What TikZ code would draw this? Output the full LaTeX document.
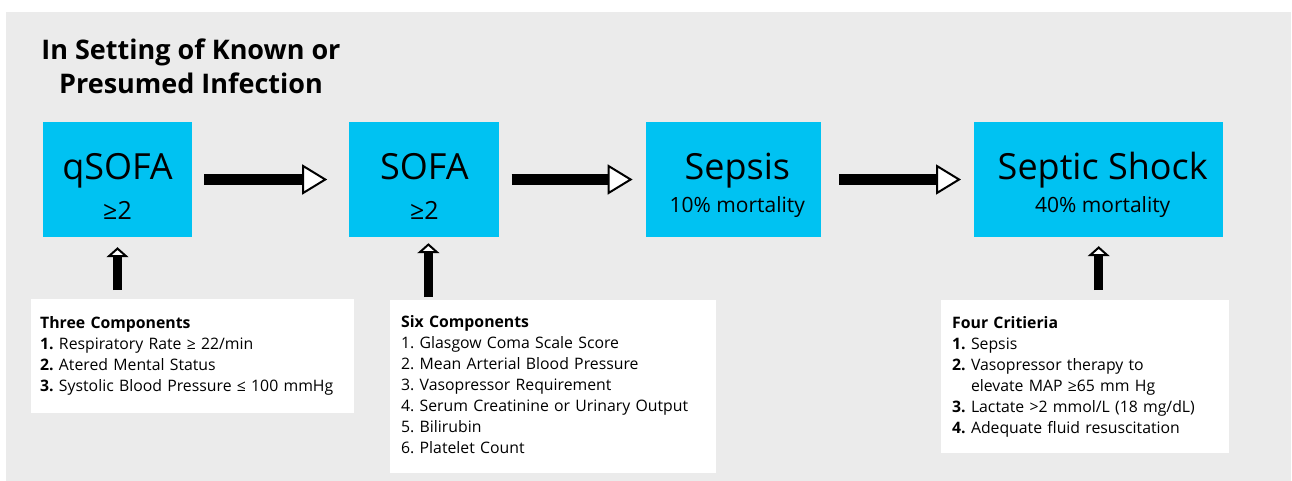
\documentclass[tikz,border=0pt]{standalone}
\usepackage{fontspec}
\setmainfont{Open Sans}
\usepackage{tikz}
\usetikzlibrary{arrows.meta, positioning, calc}
\usepackage{xcolor}
\definecolor{boxcyan}{HTML}{00C2F2}
\definecolor{bggray}{HTML}{EBEBEB}
\tikzstyle{sbox} = [%
  rectangle,
  fill=boxcyan,
  draw=none,
  minimum height=115pt,
  inner sep=0pt
]
\tikzstyle{ibox} = [%
  rectangle,
  fill=white,
  anchor=north west,
  align=left,
  inner xsep=11pt,
  inner ysep=0pt,
  font=\fontsize{15.8}{21}\selectfont\frenchspacing
]

\begin{document}
\begin{tikzpicture}[%
  x=1pt, y=-1pt,
  every node/.style={text=black},
  bigtxt/.style={anchor=base, font=\fontsize{36}{40}\selectfont},
  subtxt/.style={anchor=base, font=\fontsize{21}{24}\selectfont},
  flow/.style={line width=11pt, -{Triangle[length=25pt, width=30pt, line width=2pt, fill=white]}},
  feed/.style={line width=8.5pt, -{Triangle[length=10pt, width=22pt, line width=2pt, fill=white]}}
]

  % Frame
  \useasboundingbox (0,0) rectangle (1292,481);
  \fill[bggray] (6,12) rectangle (1291,481);

  % Title
  \node[font=\bfseries\fontsize{27}{34}\selectfont, align=center] (title) at (191,66) {In Setting of Known or\\Presumed Infection};

  % Stages
  \node[sbox, minimum width=149pt] (qsofa) at (117.5,179.5) {};
  \node[sbox, minimum width=150pt, right=157pt of qsofa] (sofa) {};
  \node[sbox, minimum width=175pt, right=146pt of sofa] (sepsis) {};
  \node[sbox, minimum width=249pt, right=153pt of sepsis] (shock) {};

  \node[bigtxt] (qsofa-t) at (qsofa.center) {qSOFA};
  \node[subtxt, font=\fontsize{25}{28}\selectfont] (qsofa-s) at ([yshift=-39.5pt]qsofa.center) {≥2};
  \node[bigtxt] (sofa-t) at (sofa.center) {SOFA};
  \node[subtxt, font=\fontsize{25}{28}\selectfont] (sofa-s) at ([yshift=-39.5pt]sofa.center) {≥2};
  \node[bigtxt] (sepsis-t) at ([xshift=4pt]sepsis.center) {Sepsis};
  \node[subtxt] (sepsis-s) at ([xshift=4pt,yshift=-33pt]sepsis.center) {10\% mortality};
  \node[bigtxt] (shock-t) at ([xshift=4pt]shock.center) {Septic Shock};
  \node[subtxt] (shock-s) at ([xshift=4pt,yshift=-33pt]shock.center) {40\% mortality};

  % Components
  \node[ibox, inner xsep=9pt, text width=305pt, minimum height=114pt] (qinfo) at (31,299) {%
    \strut\textbf{Three Components}\\
    \textbf{1.} Respiratory Rate ≥ 22/min\\
    \textbf{2.} Atered Mental Status\\
    \textbf{3.} Systolic Blood Pressure ≤ 100 mmHg\strut};
  \node[ibox, text width=304pt, minimum height=173pt] (sinfo) at (390,300) {%
    \strut\textbf{Six Components}\\
    1. Glasgow Coma Scale Score\\
    2. Mean Arterial Blood Pressure\\
    3. Vasopressor Requirement\\
    4. Serum Creatinine or Urinary Output\\
    5. Bilirubin\\
    6. Platelet Count\strut};
  \node[ibox, text width=266pt, minimum height=153pt] (cinfo) at (941,300) {%
    \strut\textbf{Four Critieria}\\
    \textbf{1.} Sepsis\\
    \textbf{2.} Vasopressor therapy to\\
    \phantom{\textbf{2.}~}elevate MAP ≥65 mm Hg\\
    \textbf{3.} Lactate >2 mmol/L (18 mg/dL)\\
    \textbf{4.} Adequate fluid resuscitation\strut};

  % Flow arrows
  \draw[flow, shorten <=12pt, shorten >=22pt] (qsofa) -- (sofa);
  \draw[flow, shorten <=12pt, shorten >=13pt] (sofa) -- (sepsis);
  \draw[flow, shorten <=18pt, shorten >=13pt] (sepsis) -- (shock);

  % Feed arrows
  \coordinate (sofa-in) at ([xshift=4pt]sofa.south);
  \draw[feed, shorten <=9pt, shorten >=10pt] (qinfo.north -| qsofa.south) -- (qsofa.south);
  \draw[feed, shorten <=3pt, shorten >=6pt] (sinfo.north -| sofa-in) -- (sofa-in);
  \draw[feed, shorten <=10pt, shorten >=9pt] (cinfo.north -| shock.south) -- (shock.south);

\end{tikzpicture}
\end{document}
